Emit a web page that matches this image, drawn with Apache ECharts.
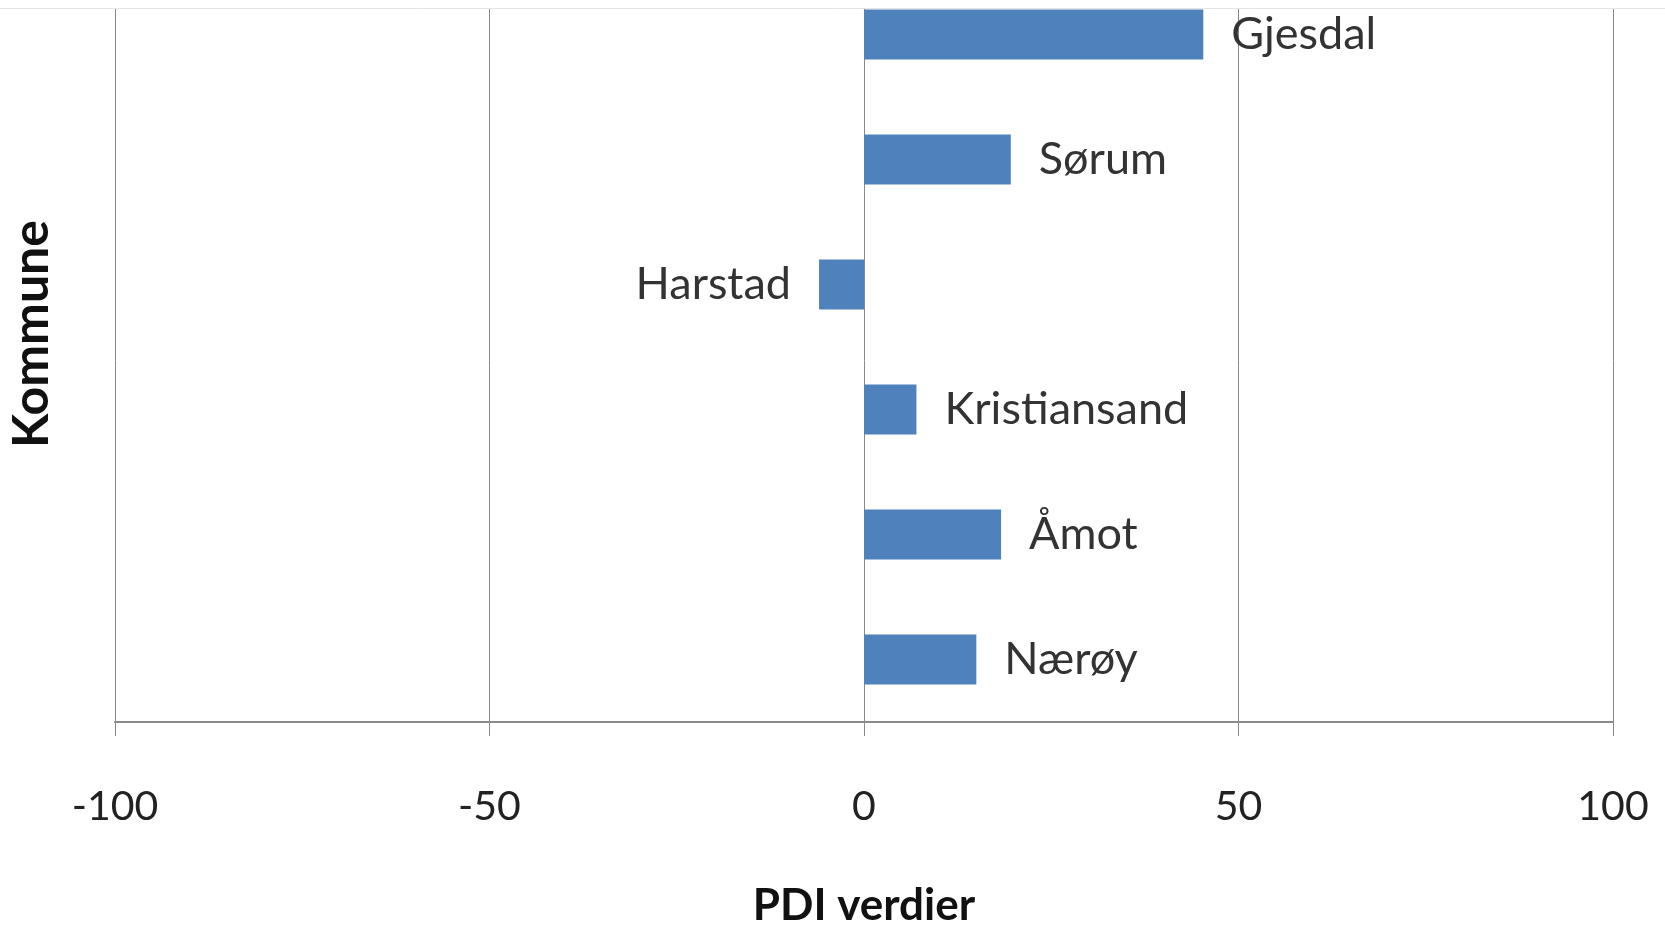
<!DOCTYPE html>
<html>
<head>
<meta charset="utf-8">
<title>PDI verdier</title>
<script src="https://cdn.jsdelivr.net/npm/echarts@6/dist/echarts.min.js"></script>
<style>
  html, body { margin: 0; padding: 0; background: #fff; }
  #chart { width: 1665px; height: 930px; }
</style>
</head>
<body>
<div id="chart"></div>
<script>
// data, top to bottom
const kommuner = ['Gjesdal', 'Sørum', 'Harstad', 'Kristiansand', 'Åmot', 'Nærøy']
const pdiVerdier = [45.3, 19.6, -6.0, 7.0, 18.3, 15.0]
const xTicks = [-100, -50, 0, 50, 100]

const FONT = 'Lato, "Open Sans", sans-serif'

const chart = echarts.init(document.getElementById('chart'))

// label on the outer end of each bar
const barData = pdiVerdier.map((v) => ({
  value: v,
  label: { position: v < 0 ? 'left' : 'right' }
}))

chart.setOption({
  backgroundColor: '#fff',
  animation: false,
  grid: {
    left: 115,
    right: 52,
    top: -28,
    bottom: 208,
    containLabel: false,
    outerBoundsMode: 'none'
  },
  xAxis: {
    type: 'value',
    min: xTicks[0],
    max: xTicks[xTicks.length - 1],
    interval: 50,
    name: 'PDI verdier',
    nameLocation: 'middle',
    nameGap: 162,
    nameTextStyle: {
      fontFamily: FONT,
      fontWeight: 'bold',
      fontSize: 44,
      color: '#111'
    },
    axisLine: { show: true, lineStyle: { color: '#8a8a8a', width: 2 } },
    axisTick: { show: true, length: 14, lineStyle: { color: '#8a8a8a', width: 1 } },
    axisLabel: {
      margin: 64,
      fontFamily: FONT,
      fontSize: 41,
      color: '#222'
    },
    splitLine: { show: true, lineStyle: { color: '#8a8a8a', width: 1 } }
  },
  yAxis: {
    type: 'category',
    inverse: true,
    data: kommuner,
    name: 'Kommune',
    nameLocation: 'middle',
    nameGap: 58,
    nameRotate: 90,
    nameTextStyle: {
      fontFamily: FONT,
      fontWeight: 'bold',
      fontSize: 50,
      color: '#111',
      padding: [0, 0, 0, 26]
    },
    axisLine: { show: false },
    axisTick: { show: false },
    axisLabel: { show: false },
    splitLine: { show: false }
  },
  series: [
    {
      type: 'bar',
      data: barData,
      barWidth: '40%',
      itemStyle: { color: '#4F81BD' },
      label: {
        show: true,
        formatter: '{b}',
        distance: 28,
        fontFamily: FONT,
        fontSize: 45,
        color: '#333'
      }
    }
  ],
  graphic: [
    {
      type: 'rect',
      left: 0,
      top: 0,
      shape: { width: 1665, height: 8 },
      style: { fill: '#fff' },
      z: 100
    },
    {
      type: 'line',
      shape: { x1: 0, y1: 8.5, x2: 1665, y2: 8.5 },
      style: { stroke: '#e4e4e4', lineWidth: 1 },
      z: 100
    }
  ]
})
</script>
</body>
</html>
